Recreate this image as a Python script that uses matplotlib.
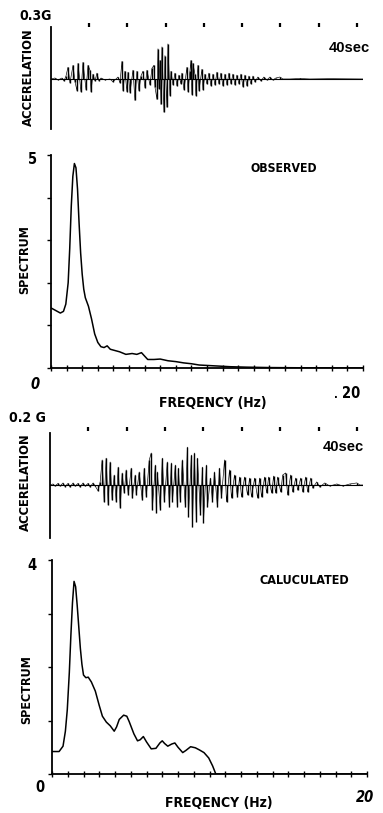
import matplotlib
matplotlib.use("Agg")
import matplotlib.pyplot as plt
from matplotlib import font_manager

W, H = 383, 813

# ---------------- data ----------------
# Observed acceleration record: peak times (s) and accelerations (G)
obs_t = [0.00, 0.52, 0.92, 1.44, 1.70, 1.96, 2.22, 2.48, 2.88, 3.14, 3.40, 3.53, 3.92, 4.18,
         4.58, 4.84, 5.10, 5.23, 5.49, 5.75, 6.01, 6.27, 6.54, 7.06, 7.71, 8.10, 8.50, 8.76,
         9.02, 9.28, 9.41, 9.67, 9.93, 10.07, 10.33, 10.72, 10.98, 11.24, 11.50, 11.76, 12.03,
         12.29, 12.55, 12.94, 13.20, 13.46, 13.59, 13.86, 13.99, 14.12, 14.25, 14.38, 14.51,
         14.77, 14.90, 15.16, 15.29, 15.56, 15.69, 15.95, 16.21, 16.47, 16.73, 16.99, 17.12,
         17.39, 17.78, 17.91, 18.17, 18.30, 18.43, 18.56, 18.82, 18.95, 19.22, 19.35, 19.74,
         19.87, 20.13, 20.39, 20.65, 20.92, 21.18, 21.44, 21.70, 21.96, 22.22, 22.48, 22.75,
         23.01, 23.27, 23.53, 23.79, 24.05, 24.31, 24.58, 24.84, 25.10, 25.36, 25.62, 25.88,
         26.14, 26.41, 26.67, 27.06, 27.45, 27.84, 28.24, 28.63, 29.02, 29.41, 29.93, 30.33,
         31.24, 32.55, 33.86, 36.47, 40.78]
obs_a = [0.000, 0.006, -0.006, 0.006, -0.012, 0.018, 0.072, -0.024, 0.084, -0.018, -0.072,
         0.096, -0.078, 0.102, -0.066, 0.084, 0.054, -0.078, 0.030, -0.012, 0.036, -0.012,
         0.006, -0.006, 0.000, -0.018, 0.000, 0.012, -0.024, 0.108, -0.072, 0.048, -0.078,
         0.042, -0.084, 0.054, -0.132, 0.048, -0.072, 0.018, 0.048, -0.054, 0.054, -0.036,
         0.066, 0.084, -0.048, -0.126, 0.186, -0.060, 0.114, -0.156, 0.198, -0.204, 0.144,
         -0.174, 0.216, -0.102, 0.048, -0.036, 0.036, -0.042, 0.024, -0.030, 0.036, -0.066,
         0.072, -0.078, 0.048, 0.114, -0.096, 0.096, 0.030, -0.102, 0.084, -0.072, 0.060,
         -0.066, 0.030, -0.030, 0.036, -0.042, 0.030, -0.036, 0.042, -0.030, 0.036, -0.042,
         0.030, -0.036, 0.036, -0.030, 0.030, -0.036, 0.024, -0.030, 0.030, -0.048, 0.024,
         -0.042, 0.018, -0.030, 0.018, -0.018, 0.012, -0.012, 0.012, -0.006, 0.012, -0.006,
         0.006, 0.012, 0.000, 0.000, 0.003, 0.000, 0.002, 0.000]

# Calculated acceleration record
cal_t = [0.00, 0.39, 0.65, 1.05, 1.31, 1.70, 1.96, 2.35, 2.61, 3.01, 3.27, 3.66, 3.92, 4.31,
         4.58, 4.97, 5.23, 5.62, 5.88, 6.27, 6.54, 6.80, 7.06, 7.32, 7.58, 7.84, 8.10, 8.37,
         8.63, 8.89, 9.15, 9.41, 9.67, 9.93, 10.20, 10.59, 10.72, 11.11, 11.24, 11.63, 12.03,
         12.29, 12.55, 12.94, 13.20, 13.33, 13.73, 13.86, 13.99, 14.38, 14.64, 14.90, 15.29,
         15.56, 15.82, 15.95, 16.34, 16.60, 16.73, 16.99, 17.25, 17.65, 17.91, 18.04, 18.43,
         18.56, 18.82, 19.08, 19.22, 19.61, 19.87, 20.00, 20.39, 20.52, 20.92, 21.18, 21.44,
         21.83, 22.09, 22.35, 22.75, 23.01, 23.40, 23.66, 24.05, 24.44, 24.71, 24.97, 25.36,
         25.75, 26.01, 26.27, 26.67, 27.06, 27.32, 27.58, 27.97, 28.24, 28.50, 28.89, 29.15,
         29.41, 29.67, 30.07, 30.33, 30.72, 30.98, 31.37, 31.63, 32.03, 32.29, 32.68, 32.94,
         33.33, 33.59, 33.99, 34.25, 34.77, 35.16, 35.82, 36.47, 37.39, 38.17, 39.08, 40.00,
         40.39, 40.78]
cal_a = [0.000, 0.004, -0.004, 0.006, -0.004, 0.008, -0.006, 0.006, -0.008, 0.008, -0.004,
         0.006, -0.008, 0.008, -0.004, 0.006, -0.008, 0.008, -0.004, -0.023, 0.012, 0.098,
         -0.066, 0.105, -0.078, 0.090, -0.059, 0.039, -0.066, 0.070, -0.090, 0.047, -0.031,
         0.059, -0.039, 0.066, -0.051, 0.039, -0.039, 0.051, -0.059, 0.066, -0.047, 0.098,
         0.125, -0.098, 0.078, -0.109, 0.051, -0.098, 0.105, -0.066, 0.090, -0.086, 0.086,
         -0.066, 0.078, -0.086, 0.066, -0.066, 0.098, -0.086, 0.148, -0.125, 0.117, -0.164,
         0.125, -0.144, 0.105, -0.117, 0.070, -0.148, 0.078, -0.086, 0.027, -0.066, 0.051,
         -0.086, 0.066, -0.051, 0.098, -0.066, 0.059, -0.051, 0.039, -0.047, 0.031, -0.047,
         0.031, -0.039, 0.027, -0.047, 0.027, -0.051, 0.027, -0.047, 0.031, -0.031, 0.031,
         -0.031, 0.035, -0.031, 0.031, -0.027, 0.039, 0.047, -0.039, 0.039, -0.027, 0.027,
         -0.020, 0.027, -0.027, 0.031, -0.027, 0.027, -0.012, 0.012, -0.008, 0.008, -0.004,
         0.004, -0.004, 0.004, 0.008, 0.000, 0.000]

# Fourier spectra
obs_f = [0.0, 0.3, 0.6, 0.8, 0.95, 1.1, 1.2, 1.3, 1.4, 1.5, 1.6, 1.7, 1.8, 1.9, 2.0, 2.1, 2.2,
         2.4, 2.6, 2.8, 3.0, 3.2, 3.4, 3.6, 3.8, 4.0, 4.4, 4.8, 5.2, 5.5, 5.8, 6.0, 6.2, 6.6,
         7.0, 7.5, 8.0, 8.5, 9.0, 9.5, 10.5, 11.5, 12.5, 14.0, 16.0, 20.0]
obs_s = [1.41, 1.35, 1.29, 1.33, 1.50, 2.00, 2.80, 3.80, 4.50, 4.80, 4.70, 4.20, 3.40, 2.70,
         2.20, 1.85, 1.65, 1.45, 1.15, 0.80, 0.60, 0.50, 0.48, 0.52, 0.44, 0.42, 0.38, 0.32,
         0.34, 0.32, 0.36, 0.28, 0.20, 0.20, 0.21, 0.17, 0.15, 0.12, 0.10, 0.07, 0.05, 0.03,
         0.02, 0.01, 0.005, 0.0]

cal_f = [0.0, 0.45, 0.7, 0.85, 0.97, 1.1, 1.2, 1.3, 1.4, 1.5, 1.6, 1.7, 1.8, 1.9, 2.0, 2.15,
         2.3, 2.5, 2.75, 3.0, 3.2, 3.45, 3.7, 3.95, 4.1, 4.27, 4.55, 4.75, 4.9, 5.2, 5.43, 5.6,
         5.8, 6.0, 6.3, 6.6, 6.85, 7.0, 7.15, 7.35, 7.6, 7.8, 8.0, 8.3, 8.5, 8.8, 9.1, 9.36,
         9.65, 9.95, 10.2, 10.4, 20.0]
cal_s = [0.42, 0.42, 0.52, 0.80, 1.20, 1.90, 2.60, 3.20, 3.60, 3.50, 3.15, 2.75, 2.35, 2.05,
         1.85, 1.80, 1.81, 1.72, 1.55, 1.28, 1.08, 0.97, 0.90, 0.80, 0.88, 1.02, 1.10, 1.08,
         0.98, 0.75, 0.62, 0.64, 0.70, 0.60, 0.47, 0.48, 0.58, 0.62, 0.57, 0.52, 0.56, 0.58,
         0.50, 0.40, 0.44, 0.51, 0.49, 0.45, 0.40, 0.30, 0.15, 0.00, 0.00]

marker_times = [5, 10, 15, 20, 25, 30, 35, 40]
freq_ticks = list(range(0, 21))

# ---------------- fonts ----------------
names = {f.name for f in font_manager.fontManager.ttflist}
if 'Liberation Sans Narrow' in names:
    NARROW, STRETCH = 'Liberation Sans Narrow', 'normal'
else:
    NARROW, STRETCH = 'DejaVu Sans', 'condensed'
SANS = 'Liberation Sans' if 'Liberation Sans' in names else 'DejaVu Sans'

fig = plt.figure(figsize=(W / 100, H / 100), dpi=100)
fig.patch.set_facecolor('white')


def px_axes(x0, y0, x1, y1):
    return fig.add_axes([x0 / W, 1 - y1 / H, (x1 - x0) / W, (y1 - y0) / H])


def ftext(x, y, s, **kw):
    fig.text(x / W, 1 - y / H, s, ha='center', va='center', color='black', **kw)


def draw_accel(ax, t, a, ylim, dot_y):
    ax.set_xlim(0, 40.8)
    ax.set_ylim(*ylim)
    ax.axhline(0, color='black', lw=0.8)
    ax.vlines(t, 0, a, color='black', lw=1.0)
    ax.plot(t, a, color='black', lw=0.45)
    for sp in ['top', 'right', 'bottom']:
        ax.spines[sp].set_visible(False)
    ax.spines['left'].set_linewidth(1.3)
    ax.set_xticks([])
    ax.set_yticks([])
    ax.plot(marker_times, [dot_y] * len(marker_times), linestyle='none', marker='|',
            markersize=3, markeredgewidth=1.6, color='black', clip_on=False)


def style_spec(ax, ymax):
    ax.set_xlim(0, 20)
    ax.set_ylim(0, ymax)
    for sp in ['top', 'right']:
        ax.spines[sp].set_visible(False)
    for sp in ['left', 'bottom']:
        ax.spines[sp].set_linewidth(1.3)
    ax.set_xticks(freq_ticks)
    ax.set_yticks(list(range(0, ymax + 1)))
    ax.set_xticklabels([])
    ax.set_yticklabels([])
    ax.tick_params(axis='x', direction='inout', length=4, width=1.0)
    ax.tick_params(axis='y', direction='out', length=3, width=1.0)


# ---- observed acceleration ----
ax1 = px_axes(51, 27, 363, 129)
draw_accel(ax1, obs_t, obs_a, (-0.308, 0.32), 0.333)

# ---- observed spectrum ----
ax2 = px_axes(51, 155, 363, 368)
ax2.plot(obs_f, obs_s, color='black', lw=1.1)
style_spec(ax2, 5)

# ---- calculated acceleration ----
ax3 = px_axes(50, 433, 363, 538)
draw_accel(ax3, cal_t, cal_a, (-0.207, 0.203), 0.217)

# ---- calculated spectrum ----
ax4 = px_axes(52, 560, 367, 774)
ax4.plot(cal_f, cal_s, color='black', lw=1.1)
style_spec(ax4, 4)

# ---------------- texts ----------------
lab = dict(family=NARROW, fontweight='bold', fontstretch=STRETCH)
ftext(36, 16, '0.3G', fontsize=10, **lab)
ftext(28, 77, 'ACCERELATION', fontsize=9.3, rotation=90, **lab)
ftext(349, 48, '40sec', fontsize=10.5, family=SANS, fontweight='bold')
ftext(33, 160, '5', fontsize=10.5, **lab)
ftext(25, 260, 'SPECTRUM', fontsize=9, rotation=90, **lab)
ftext(284, 168, 'OBSERVED', fontsize=8.8, **lab)
ftext(35, 384, '0', fontsize=10.5, style='italic', **lab)
ftext(336, 395, '.', fontsize=8, **lab)
ftext(351, 393, '20', fontsize=10.5, **lab)
ftext(213, 403, 'FREQENCY (Hz)', fontsize=10, **lab)

ftext(27, 418, '0.2 G', fontsize=10, **lab)
ftext(25, 482, 'ACCERELATION', fontsize=9.3, rotation=90, **lab)
ftext(343, 447, '40sec', fontsize=10.5, family=SANS, fontweight='bold')
ftext(32, 565, '4', fontsize=10.5, **lab)
ftext(27, 690, 'SPECTRUM', fontsize=9, rotation=90, **lab)
ftext(304, 581, 'CALUCULATED', fontsize=9, **lab)
ftext(40, 787, '0', fontsize=10.5, **lab)
ftext(365, 797, '20', fontsize=10.5, style='italic', **lab)
ftext(219, 803, 'FREQENCY (Hz)', fontsize=10, **lab)

fig.savefig('out.png', dpi=100, facecolor='white')
